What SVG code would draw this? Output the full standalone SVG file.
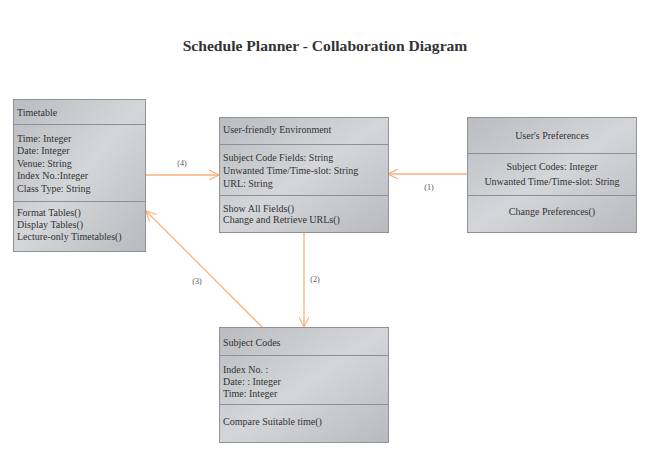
<svg xmlns="http://www.w3.org/2000/svg" width="650" height="456" viewBox="0 0 650 456">
<defs>
<linearGradient id="g" x1="0" y1="0" x2="1" y2="1">
<stop offset="0" stop-color="#babcc1"/>
<stop offset="0.5" stop-color="#d5d6d9"/>
<stop offset="1" stop-color="#b8babf"/>
</linearGradient>
<marker id="arr" viewBox="0 0 10 10" refX="10" refY="5" markerWidth="10" markerHeight="10" markerUnits="userSpaceOnUse" orient="auto">
<path d="M0,0 L10,5 L0,10" fill="none" stroke="#f9b27c" stroke-width="1.2"/>
</marker>
<style>
.box{fill:url(#g);stroke:#909297;stroke-width:1}
.div{stroke:#8e9095;stroke-width:1}
.t{font-family:"Liberation Serif",serif;font-size:10px;fill:#333}
.m{text-anchor:middle}
.c{stroke:#f9b27c;stroke-width:1.3;fill:none}
.lbl{font-family:"Liberation Serif",serif;font-size:8px;fill:#555;text-anchor:middle}
</style>
</defs>
<rect width="650" height="456" fill="#fff"/>
<text x="325" y="51" text-anchor="middle" font-family="Liberation Serif,serif" font-size="15.6" font-weight="bold" fill="#333">Schedule Planner - Collaboration Diagram</text>

<g id="connectors">
<line class="c" x1="146" y1="175" x2="219" y2="175" marker-end="url(#arr)"/>
<text class="lbl" x="182" y="166">(4)</text>
<line class="c" x1="467" y1="174" x2="388" y2="174" marker-end="url(#arr)"/>
<text class="lbl" x="429" y="190">(1)</text>
<line class="c" x1="304" y1="232" x2="304" y2="327" marker-end="url(#arr)"/>
<text class="lbl" x="315" y="282">(2)</text>
<line class="c" x1="262" y1="327" x2="146" y2="211" marker-end="url(#arr)" stroke-width="1"/>
<text class="lbl" x="197" y="284">(3)</text>
</g>

<g id="timetable">
<rect class="box" x="13.5" y="99.5" width="132" height="152"/>
<line class="div" x1="13.5" y1="124.5" x2="145.5" y2="124.5"/>
<line class="div" x1="13.5" y1="201.5" x2="145.5" y2="201.5"/>
<text class="t" x="17" y="116">Timetable</text>
<text class="t" x="17" y="141.5">Time: Integer</text>
<text class="t" x="17" y="154">Date: Integer</text>
<text class="t" x="17" y="166.5">Venue: String</text>
<text class="t" x="17" y="179">Index No.:Integer</text>
<text class="t" x="17" y="191.5">Class Type: String</text>
<text class="t" x="17" y="216">Format Tables()</text>
<text class="t" x="17" y="228">Display Tables()</text>
<text class="t" x="17" y="240">Lecture-only Timetables()</text>
</g>

<g id="user-friendly">
<rect class="box" x="219.5" y="117.5" width="169" height="115"/>
<line class="div" x1="219.5" y1="144.5" x2="388.5" y2="144.5"/>
<line class="div" x1="219.5" y1="195.5" x2="388.5" y2="195.5"/>
<text class="t" x="223" y="132.5">User-friendly Environment</text>
<text class="t" x="223" y="160.5">Subject Code Fields: String</text>
<text class="t" x="223" y="173.5">Unwanted Time/Time-slot: String</text>
<text class="t" x="223" y="186.5">URL: String</text>
<text class="t" x="223" y="211.5">Show All Fields()</text>
<text class="t" x="223" y="222.5">Change and Retrieve URLs()</text>
</g>

<g id="users-preferences">
<rect class="box" x="467.5" y="117.5" width="169" height="115"/>
<line class="div" x1="467.5" y1="153.5" x2="636.5" y2="153.5"/>
<line class="div" x1="467.5" y1="195.5" x2="636.5" y2="195.5"/>
<text class="t m" x="552" y="138.5">User's Preferences</text>
<text class="t m" x="552" y="170">Subject Codes: Integer</text>
<text class="t m" x="552" y="184.5">Unwanted Time/Time-slot: String</text>
<text class="t m" x="552" y="214.5">Change Preferences()</text>
</g>

<g id="subject-codes">
<rect class="box" x="219.5" y="327.5" width="169" height="115"/>
<line class="div" x1="219.5" y1="355.5" x2="388.5" y2="355.5"/>
<line class="div" x1="219.5" y1="404.5" x2="388.5" y2="404.5"/>
<text class="t" x="223" y="345.5">Subject Codes</text>
<text class="t" x="223" y="372.5">Index No. :</text>
<text class="t" x="223" y="384.5">Date: : Integer</text>
<text class="t" x="223" y="396.5">Time: Integer</text>
<text class="t" x="223" y="425">Compare Suitable time()</text>
</g>
</svg>
